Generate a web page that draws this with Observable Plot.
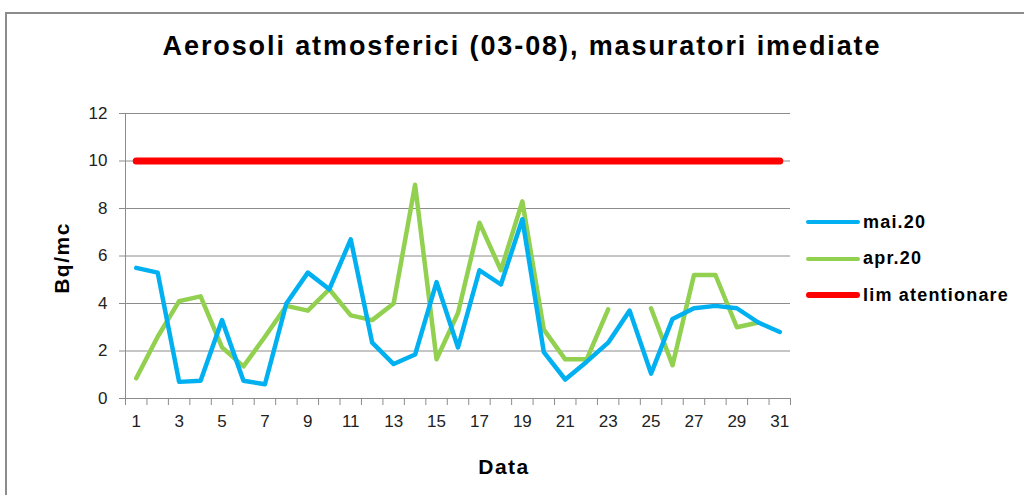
<!DOCTYPE html>
<html><head><meta charset="utf-8">
<script src="https://cdn.jsdelivr.net/npm/d3@7"></script>
<script src="https://cdn.jsdelivr.net/npm/@observablehq/plot@0.6"></script>
<style>
body{margin:0;background:#fff;font-family:"Liberation Sans",Arial,sans-serif}
#wrap{position:relative;width:1024px;height:495px;overflow:hidden;background:#fff}
#frame{position:absolute;left:5px;top:12px;width:1100px;height:600px;border:2px solid #8c8c8c;box-sizing:border-box}
#title{position:absolute;left:0;top:31px;width:1044px;text-align:center;font-weight:bold;font-size:27px;letter-spacing:1.9px;color:#000}
#ylab{position:absolute;left:62px;top:258px;transform:translate(-50%,-50%) rotate(-90deg);font-weight:bold;font-size:21px;letter-spacing:1.5px;white-space:nowrap}
#xlab{position:absolute;left:404px;top:455px;width:200px;text-align:center;font-weight:bold;font-size:21px;letter-spacing:1.5px}
#legend{position:absolute;left:806px;top:204px;font-weight:bold;font-size:18px;letter-spacing:1.2px}
.li{display:flex;align-items:center;height:36.5px}
.sw{width:54px;border-radius:3px;margin-right:3px}
#plot{position:absolute;left:0;top:0}
</style></head><body>
<div id="wrap">
<div id="frame"></div>
<div id="plot"></div>
<div id="title"></div>
<div id="ylab"></div>
<div id="xlab"></div>
<div id="legend"></div>
</div>
<script>
const titleText = "Aerosoli atmosferici (03-08), masuratori imediate";
const yLabel = "Bq/mc";
const xLabel = "Data";
const days = d3.range(1, 32);
const mai20 = [5.5,5.3,0.7,0.75,3.3,0.75,0.6,4.0,5.3,4.6,6.7,2.35,1.45,1.85,4.9,2.15,5.4,4.8,7.55,1.95,0.8,1.55,2.35,3.7,1.05,3.35,3.8,3.9,3.8,3.2,2.8];
const apr20 = [0.85,2.6,4.1,4.3,2.15,1.35,2.6,3.9,3.7,4.6,3.5,3.3,4.0,9.0,1.65,3.6,7.4,5.4,8.3,2.9,1.65,1.65,3.75,null,3.8,1.4,5.2,5.2,3.0,3.2,null];
const limVal = days.map(() => 10);
const yTicks = [0,2,4,6,8,10,12];
const xTickLabels = [1,3,5,7,9,11,13,15,17,19,21,23,25,27,29,31];
const seriesNames = ["mai.20","apr.20","lim atentionare"];
const seriesColors = ["#00B0F0","#92D050","#FF0000"];
const seriesWidths = [4.5,4.5,7];

const mk = (vals, name) => days.map((d,i) => ({day:d, value:vals[i], series:name}));
const dataMai = mk(mai20, seriesNames[0]);
const dataApr = mk(apr20, seriesNames[1]);
const dataLim = mk(limVal, seriesNames[2]);
const gridColor = "#8c8c8c";

const plot = Plot.plot({
  width: 1024, height: 495,
  marginLeft: 125, marginRight: 234, marginTop: 113, marginBottom: 97,
  x: {type: "linear", domain: [0.5, 31.5], axis: null},
  y: {domain: [0, 12], axis: null},
  style: {fontFamily: '"Liberation Sans", Arial, sans-serif', background: "transparent", color: "#222"},
  marks: [
    Plot.ruleY(yTicks.slice(1), {stroke: gridColor, strokeWidth: 1}),
    Plot.ruleX([0.5], {stroke: gridColor, strokeWidth: 1}),
    Plot.ruleY([0], {stroke: gridColor, strokeWidth: 1}),
    Plot.axisY(yTicks, {tickSize: 6, tickPadding: 12, fontSize: 17, stroke: gridColor, fill: "#222", label: null}),
    Plot.axisX(d3.range(0.5, 32, 1), {tickSize: 7, stroke: gridColor, text: null, label: null}),
    Plot.axisX(xTickLabels, {tickSize: 0, tickPadding: 16, fontSize: 17, fill: "#222", label: null}),
    Plot.line(dataLim, {x: "day", y: "value", stroke: seriesColors[2], strokeWidth: seriesWidths[2], strokeLinecap: "round"}),
    Plot.line(dataApr, {x: "day", y: "value", stroke: seriesColors[1], strokeWidth: seriesWidths[1], strokeLinejoin: "round"}),
    Plot.line(dataMai, {x: "day", y: "value", stroke: seriesColors[0], strokeWidth: seriesWidths[0], strokeLinejoin: "round"})
  ]
});
document.getElementById("plot").appendChild(plot);
document.getElementById("title").textContent = titleText;
document.getElementById("ylab").textContent = yLabel;
document.getElementById("xlab").textContent = xLabel;
const leg = document.getElementById("legend");
seriesNames.forEach((n,i) => {
  const row = document.createElement("div"); row.className = "li";
  const sw = document.createElement("div"); sw.className = "sw";
  sw.style.height = (i === 2 ? 6 : 4) + "px"; sw.style.background = seriesColors[i];
  const t = document.createElement("span"); t.textContent = n;
  row.appendChild(sw); row.appendChild(t); leg.appendChild(row);
});
</script>
</body></html>
